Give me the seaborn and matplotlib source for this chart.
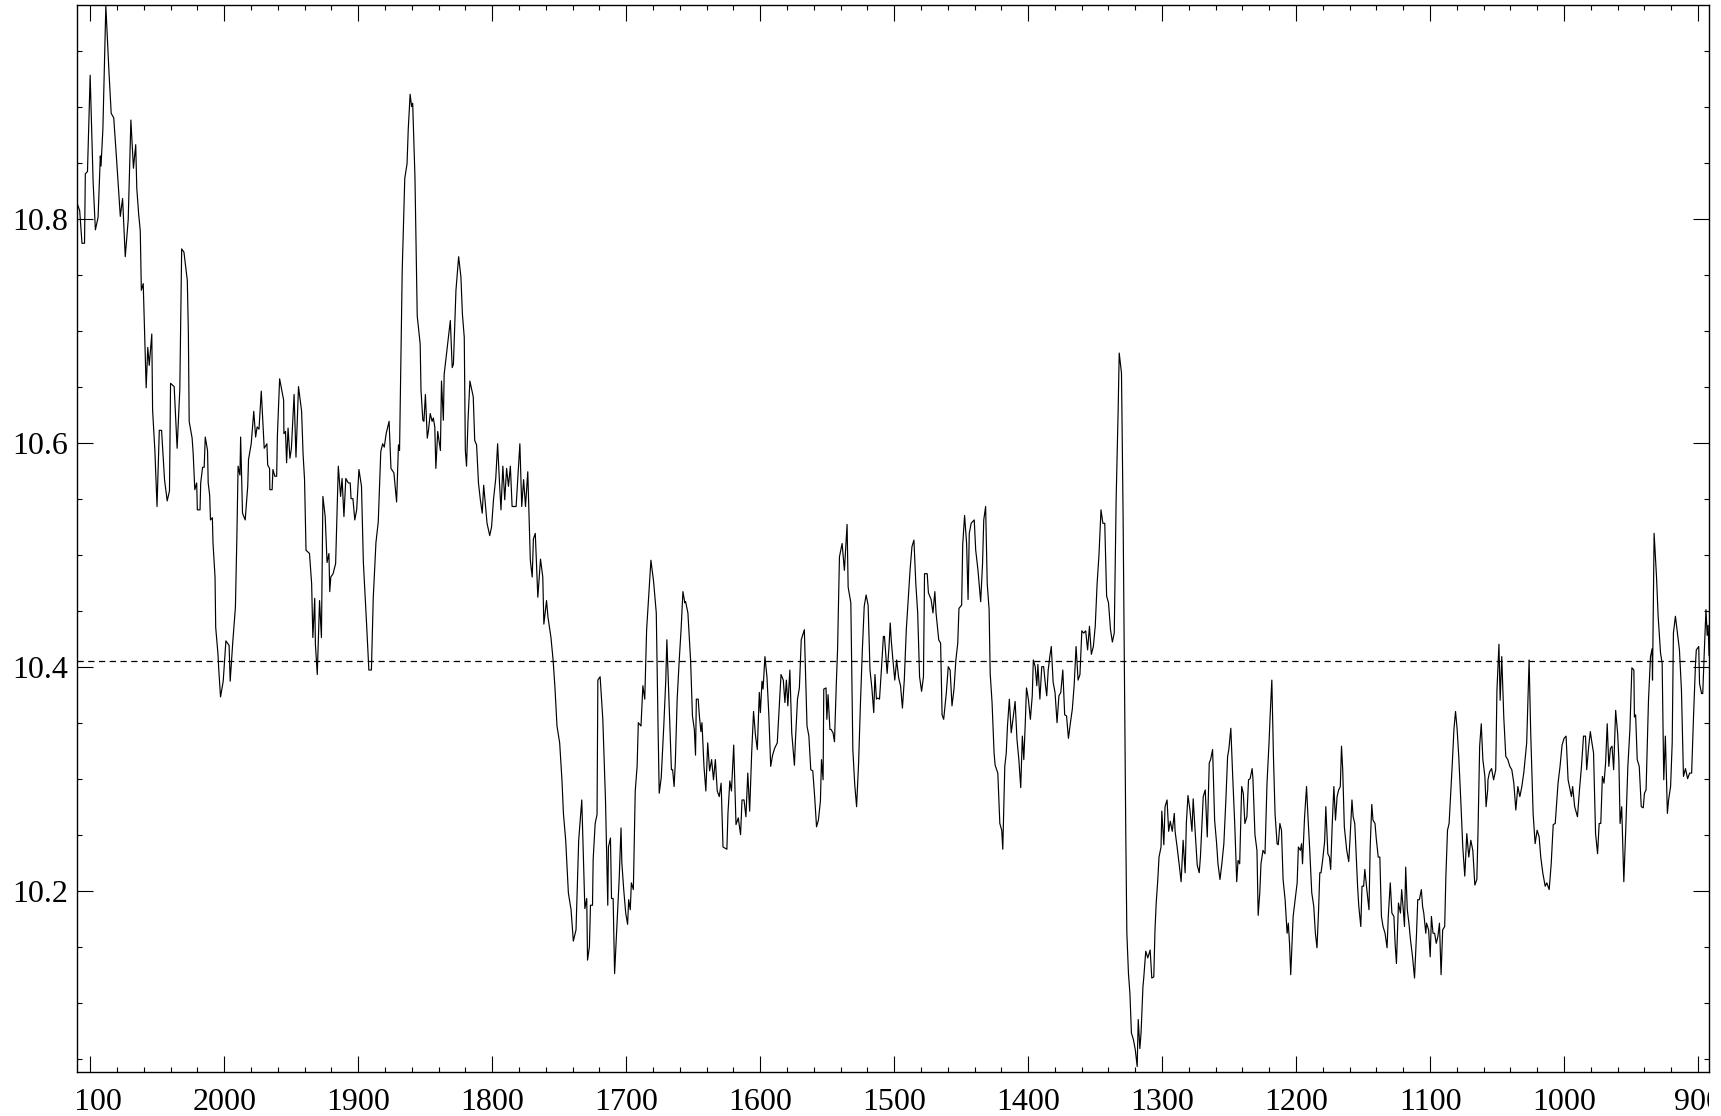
import numpy as np
import pandas as pd
import matplotlib
matplotlib.use('Agg')
import matplotlib.pyplot as plt
import seaborn as sns
from matplotlib.ticker import MultipleLocator
from matplotlib.transforms import Bbox, TransformedBbox

# series, split in three stretches (left to right)
years_a = [2109.8, 2107.8, 2106.1, 2104.2, 2103.6, 2102.0, 2100.0, 2097.8, 2096.1, 2094.1, 2092.4, 2091.9, 2090.5, 2088.3,
           2086.0, 2084.3, 2082.4, 2080.4, 2077.5, 2075.8, 2073.8, 2071.6, 2069.6, 2067.7, 2066.0, 2065.2, 2063.8, 2062.6,
           2061.8, 2060.4, 2059.3, 2058.2, 2057.0, 2055.9, 2054.0, 2053.4, 2051.7, 2050.1, 2048.4, 2046.7, 2044.5, 2042.5,
           2040.8, 2040.0, 2037.3, 2035.1, 2033.1, 2031.7, 2030.0, 2028.7, 2027.5, 2026.7, 2026.1, 2023.9, 2023.1, 2021.9,
           2020.5, 2020.0, 2018.0, 2017.5, 2016.1, 2014.9, 2014.1, 2012.4, 2011.9, 2010.8, 2010.2, 2008.8, 2008.3, 2006.8,
           2006.3, 2004.6, 2004.1, 2002.7, 2000.7, 1998.7, 1996.3, 1995.5, 1993.5, 1991.6, 1990.5, 1989.6, 1988.2, 1987.7,
           1986.3, 1984.3, 1982.4, 1981.8, 1979.8, 1977.9, 1976.5, 1975.4, 1974.0, 1972.3, 1970.1, 1968.1, 1967.5, 1966.1,
           1965.9, 1964.2, 1963.6, 1962.2, 1960.8, 1960.3, 1958.6, 1955.6, 1955.4, 1954.2, 1953.4, 1952.3, 1950.9, 1949.8,
           1947.8, 1946.4, 1944.5, 1942.2, 1941.1, 1940.0, 1938.9, 1936.3, 1934.7, 1933.8, 1932.4, 1931.9, 1930.5, 1928.8,
           1927.4, 1926.3, 1924.6, 1923.2, 1921.8, 1921.2, 1920.4, 1918.7, 1916.8, 1914.8, 1913.1, 1912.0, 1910.6, 1909.2,
           1907.3, 1905.9, 1905.3, 1903.9, 1902.5, 1901.1, 1899.4, 1897.5, 1896.1, 1893.7, 1892.0, 1890.1, 1888.7, 1886.7,
           1885.0, 1883.1, 1881.7, 1880.5, 1879.1, 1876.9, 1875.5, 1873.3, 1871.3, 1869.9, 1869.1, 1867.1, 1865.2, 1863.5,
           1862.6, 1861.2, 1860.1, 1859.3, 1857.6, 1855.9, 1853.7, 1853.1, 1851.7, 1850.9, 1849.8, 1848.4, 1847.5, 1846.2,
           1844.8, 1843.9, 1842.8, 1842.0, 1840.6, 1838.6, 1837.8, 1836.4, 1835.8, 1831.2, 1829.8, 1828.9, 1827.0, 1825.0,
           1823.3, 1822.2, 1820.8, 1820.0, 1819.1, 1818.0, 1816.6, 1814.1, 1813.0, 1811.6, 1810.2, 1808.8, 1807.4, 1806.3,
           1804.9, 1803.8, 1801.8, 1800.4, 1799.0, 1797.3, 1795.9, 1794.5, 1793.4, 1792.0, 1790.6, 1789.2, 1787.8, 1786.4,
           1785.1, 1782.1, 1780.7, 1779.3, 1777.9, 1776.5, 1775.1, 1773.4, 1771.5, 1770.1, 1769.2, 1767.8, 1765.9, 1763.9,
           1762.2, 1761.4, 1759.4, 1758.3, 1756.1]
values_a = [10.814, 10.807, 10.778, 10.778, 10.840, 10.842, 10.928, 10.833, 10.790, 10.801, 10.856, 10.847, 10.880, 10.990,
            10.932, 10.894, 10.890, 10.855, 10.802, 10.818, 10.766, 10.799, 10.888, 10.845, 10.866, 10.827, 10.804, 10.789,
            10.736, 10.742, 10.697, 10.649, 10.685, 10.669, 10.697, 10.629, 10.593, 10.543, 10.611, 10.611, 10.567, 10.548,
            10.557, 10.653, 10.650, 10.595, 10.647, 10.773, 10.770, 10.757, 10.745, 10.698, 10.619, 10.604, 10.590, 10.558,
            10.564, 10.540, 10.540, 10.564, 10.578, 10.578, 10.605, 10.593, 10.564, 10.553, 10.531, 10.533, 10.510, 10.480,
            10.435, 10.411, 10.399, 10.373, 10.387, 10.423, 10.419, 10.387, 10.423, 10.453, 10.516, 10.579, 10.571, 10.605,
            10.537, 10.531, 10.561, 10.585, 10.599, 10.628, 10.605, 10.614, 10.612, 10.646, 10.595, 10.599, 10.580, 10.577,
            10.558, 10.558, 10.576, 10.570, 10.570, 10.605, 10.657, 10.638, 10.608, 10.610, 10.582, 10.613, 10.586, 10.595,
            10.643, 10.587, 10.650, 10.628, 10.590, 10.567, 10.504, 10.501, 10.474, 10.426, 10.461, 10.420, 10.393, 10.459,
            10.426, 10.552, 10.534, 10.493, 10.501, 10.467, 10.480, 10.483, 10.492, 10.579, 10.552, 10.568, 10.534, 10.568,
            10.564, 10.564, 10.550, 10.550, 10.531, 10.540, 10.576, 10.561, 10.493, 10.438, 10.397, 10.397, 10.462, 10.511,
            10.529, 10.592, 10.599, 10.596, 10.608, 10.619, 10.577, 10.573, 10.547, 10.598, 10.593, 10.754, 10.836, 10.849,
            10.880, 10.911, 10.900, 10.903, 10.837, 10.713, 10.688, 10.647, 10.620, 10.619, 10.643, 10.604, 10.611, 10.626,
            10.619, 10.622, 10.614, 10.577, 10.610, 10.593, 10.655, 10.620, 10.661, 10.709, 10.667, 10.670, 10.736, 10.766,
            10.748, 10.715, 10.694, 10.593, 10.579, 10.620, 10.655, 10.641, 10.602, 10.598, 10.564, 10.549, 10.537, 10.562,
            10.543, 10.528, 10.517, 10.525, 10.549, 10.568, 10.599, 10.564, 10.540, 10.579, 10.549, 10.577, 10.561, 10.579,
            10.543, 10.543, 10.571, 10.599, 10.543, 10.567, 10.543, 10.574, 10.495, 10.480, 10.514, 10.519, 10.462, 10.496,
            10.480, 10.438, 10.459, 10.444, 10.426]

years_b = [1754.5, 1753.1, 1751.6, 1749.6, 1747.9, 1746.8, 1745.1, 1743.1, 1741.1, 1739.4, 1737.4, 1735.4, 1733.1, 1730.8,
           1729.4, 1728.8, 1727.4, 1726.6, 1725.1, 1724.6, 1723.1, 1721.7, 1721.1, 1719.4, 1717.4, 1715.4, 1713.7, 1713.2,
           1711.7, 1710.9, 1709.7, 1708.6, 1706.9, 1705.2, 1703.8, 1703.2, 1701.8, 1700.3, 1698.9, 1698.1, 1696.9, 1696.1,
           1694.6, 1693.2, 1691.8, 1690.9, 1688.9, 1687.5, 1686.1, 1684.7, 1681.5, 1679.5, 1677.5, 1676.1, 1675.3, 1673.8,
           1671.9, 1670.4, 1669.6, 1667.6, 1666.2, 1665.3, 1664.2, 1663.3, 1661.9, 1660.5, 1659.0, 1657.6, 1656.2, 1655.6,
           1653.9, 1651.9, 1650.5, 1649.1, 1648.2, 1647.6, 1646.2, 1645.4, 1644.2, 1643.4, 1641.9, 1640.5, 1639.1, 1637.7,
           1636.2, 1634.8, 1633.4, 1632.0, 1630.5, 1629.1, 1627.7, 1626.3, 1624.8, 1624.0, 1622.6, 1621.4, 1619.7, 1618.0,
           1616.3, 1614.6, 1613.5, 1612.0, 1610.6, 1609.2, 1607.8, 1606.3, 1604.9, 1603.5, 1602.1, 1600.6, 1599.8, 1598.6,
           1597.8, 1596.4, 1594.9, 1593.5, 1592.1, 1590.7, 1589.2, 1587.2, 1585.8, 1584.4, 1582.7, 1581.5, 1580.4, 1579.3,
           1577.8, 1576.4, 1574.4, 1573.6, 1572.1, 1570.7, 1569.3, 1567.0, 1565.0, 1563.6, 1562.2, 1560.7, 1559.3, 1557.9,
           1556.5, 1555.0, 1554.2, 1553.0, 1552.5, 1550.8, 1550.2, 1549.3, 1547.9, 1547.1, 1545.6, 1544.5, 1543.1, 1542.2,
           1540.8, 1538.8, 1537.1, 1535.1, 1534.3, 1532.3, 1530.8, 1529.4, 1528.0, 1526.5, 1525.1, 1523.7, 1522.3, 1520.9,
           1519.4, 1518.0, 1516.6, 1515.2, 1514.3, 1513.2, 1512.3, 1510.9, 1509.5, 1508.0, 1507.2, 1505.2, 1503.8, 1502.9,
           1502.1, 1500.9, 1499.5, 1498.1, 1496.6, 1495.2, 1493.8, 1492.4, 1490.9, 1489.5, 1488.1, 1486.7, 1485.2, 1483.8,
           1482.4, 1481.0, 1479.5, 1478.1, 1477.3, 1475.3, 1474.4, 1472.4, 1471.0, 1469.6, 1468.7, 1466.7, 1465.3, 1464.2,
           1463.0, 1461.0, 1459.6, 1458.2, 1456.8, 1455.3, 1453.9, 1452.5, 1451.6, 1449.6, 1448.8, 1447.4, 1445.9, 1444.8,
           1443.9, 1442.5, 1440.2, 1439.1, 1437.4, 1435.4, 1434.0, 1433.1, 1431.7, 1430.5, 1429.1, 1428.3, 1426.9, 1425.4,
           1424.6, 1422.6, 1421.1, 1419.7, 1418.9, 1417.4, 1416.3, 1415.4, 1414.0, 1412.6, 1411.2, 1409.7, 1408.3, 1406.9,
           1405.5, 1404.3, 1403.2, 1402.1, 1401.2, 1399.8, 1398.3, 1396.9, 1396.1, 1394.7, 1393.5, 1392.7, 1391.2, 1389.8,
           1388.4, 1387.0, 1386.1, 1385.0, 1383.8, 1382.7, 1381.3, 1379.9, 1378.4, 1377.0, 1375.6, 1374.1, 1372.7, 1371.3,
           1369.9, 1368.4, 1367.0, 1365.6, 1364.2, 1362.7, 1361.3, 1359.9, 1358.5, 1357.0, 1355.6, 1354.2, 1352.8, 1351.3,
           1349.9, 1348.5, 1347.1, 1345.6, 1344.2, 1342.8, 1341.4, 1340.0, 1338.5, 1337.1, 1335.7, 1334.3, 1332.8, 1332.0,
           1330.3, 1329.1, 1327.1, 1326.3, 1325.1, 1324.0, 1322.9, 1321.4, 1320.0, 1318.6, 1317.8, 1316.6, 1315.7, 1314.3]
values_b = [10.406, 10.381, 10.347, 10.332, 10.299, 10.269, 10.245, 10.198, 10.183, 10.155, 10.165, 10.245, 10.281, 10.184,
            10.193, 10.138, 10.150, 10.187, 10.187, 10.228, 10.260, 10.268, 10.388, 10.391, 10.353, 10.281, 10.187, 10.239,
            10.247, 10.193, 10.193, 10.126, 10.168, 10.210, 10.256, 10.225, 10.201, 10.180, 10.170, 10.192, 10.183, 10.207,
            10.201, 10.289, 10.311, 10.350, 10.347, 10.383, 10.371, 10.433, 10.495, 10.476, 10.448, 10.341, 10.287, 10.301,
            10.347, 10.388, 10.424, 10.356, 10.308, 10.308, 10.293, 10.314, 10.371, 10.403, 10.433, 10.467, 10.457, 10.458,
            10.448, 10.406, 10.356, 10.344, 10.321, 10.371, 10.371, 10.357, 10.342, 10.350, 10.311, 10.289, 10.332, 10.307,
            10.317, 10.299, 10.317, 10.289, 10.284, 10.296, 10.239, 10.238, 10.237, 10.269, 10.298, 10.289, 10.330, 10.259,
            10.265, 10.250, 10.281, 10.281, 10.266, 10.305, 10.271, 10.323, 10.360, 10.339, 10.326, 10.377, 10.359, 10.387,
            10.380, 10.409, 10.391, 10.357, 10.311, 10.321, 10.327, 10.332, 10.362, 10.393, 10.388, 10.368, 10.388, 10.365,
            10.397, 10.341, 10.312, 10.335, 10.371, 10.381, 10.424, 10.433, 10.347, 10.338, 10.308, 10.307, 10.284, 10.257,
            10.263, 10.280, 10.317, 10.299, 10.380, 10.381, 10.353, 10.375, 10.344, 10.344, 10.341, 10.333, 10.386, 10.415,
            10.498, 10.510, 10.486, 10.527, 10.471, 10.457, 10.326, 10.295, 10.275, 10.314, 10.368, 10.415, 10.454, 10.464,
            10.455, 10.397, 10.381, 10.359, 10.393, 10.371, 10.372, 10.371, 10.397, 10.427, 10.427, 10.394, 10.418, 10.439,
            10.423, 10.406, 10.388, 10.406, 10.390, 10.383, 10.363, 10.388, 10.433, 10.460, 10.486, 10.507, 10.513, 10.474,
            10.448, 10.391, 10.378, 10.391, 10.483, 10.483, 10.466, 10.460, 10.448, 10.467, 10.448, 10.424, 10.421, 10.357,
            10.353, 10.377, 10.400, 10.397, 10.365, 10.380, 10.406, 10.421, 10.452, 10.455, 10.509, 10.535, 10.510, 10.460,
            10.519, 10.528, 10.531, 10.504, 10.486, 10.458, 10.492, 10.531, 10.543, 10.474, 10.451, 10.394, 10.368, 10.323,
            10.312, 10.305, 10.260, 10.254, 10.237, 10.311, 10.323, 10.347, 10.371, 10.341, 10.354, 10.369, 10.335, 10.317,
            10.292, 10.338, 10.317, 10.350, 10.381, 10.371, 10.353, 10.374, 10.406, 10.400, 10.383, 10.402, 10.371, 10.400,
            10.400, 10.383, 10.374, 10.397, 10.409, 10.418, 10.386, 10.377, 10.350, 10.374, 10.377, 10.397, 10.357, 10.356,
            10.336, 10.350, 10.362, 10.384, 10.418, 10.388, 10.393, 10.432, 10.430, 10.432, 10.415, 10.436, 10.411, 10.418,
            10.436, 10.474, 10.500, 10.540, 10.528, 10.528, 10.463, 10.457, 10.433, 10.422, 10.430, 10.549, 10.629, 10.680,
            10.662, 10.534, 10.251, 10.162, 10.126, 10.108, 10.073, 10.067, 10.058, 10.043, 10.085, 10.059, 10.073, 10.114]

years_c = [1313.7, 1312.2, 1310.7, 1308.9, 1307.7, 1306.2, 1305.3, 1304.4, 1303.2, 1302.3, 1300.8, 1300.2, 1298.7, 1297.8,
           1296.3, 1295.1, 1293.9, 1292.4, 1290.9, 1290.3, 1288.8, 1287.3, 1285.8, 1284.3, 1282.8, 1281.9, 1280.7, 1279.2,
           1277.7, 1276.8, 1275.3, 1273.8, 1272.3, 1271.4, 1269.3, 1267.8, 1266.3, 1264.8, 1263.8, 1262.3, 1260.8, 1259.3,
           1258.3, 1256.8, 1255.4, 1253.9, 1252.4, 1251.1, 1250.2, 1248.7, 1247.3, 1245.8, 1244.3, 1243.3, 1242.1, 1240.6,
           1239.4, 1238.2, 1236.7, 1235.5, 1234.3, 1232.8, 1232.2, 1230.7, 1229.2, 1228.3, 1227.1, 1226.2, 1224.7, 1223.2,
           1221.7, 1220.2, 1219.3, 1218.1, 1216.9, 1215.7, 1214.2, 1213.3, 1212.1, 1210.9, 1209.7, 1208.2, 1206.7, 1205.8,
           1204.9, 1204.0, 1202.2, 1200.7, 1199.2, 1198.3, 1196.8, 1195.9, 1195.2, 1193.7, 1192.2, 1191.0, 1189.8, 1188.3,
           1186.8, 1185.6, 1184.4, 1183.2, 1182.3, 1181.4, 1180.2, 1178.7, 1177.8, 1176.3, 1175.1, 1174.2, 1173.0, 1171.8,
           1170.6, 1169.4, 1168.2, 1167.0, 1166.1, 1165.2, 1164.0, 1162.2, 1160.7, 1159.8, 1158.3, 1157.4, 1156.2, 1155.0,
           1154.1, 1153.2, 1151.7, 1150.8, 1149.6, 1148.7, 1147.2, 1145.6, 1144.7, 1143.5, 1142.6, 1141.1, 1140.2, 1138.7,
           1137.5, 1136.3, 1135.1, 1133.6, 1132.1, 1131.2, 1129.7, 1128.5, 1127.0, 1126.1, 1125.1, 1123.6, 1122.1, 1121.2,
           1120.0, 1119.1, 1118.2, 1117.0, 1115.8, 1114.6, 1113.1, 1111.6, 1110.1, 1109.2, 1108.0, 1106.5, 1105.6, 1104.7,
           1103.2, 1102.6, 1101.1, 1099.9, 1099.0, 1097.8, 1096.6, 1095.4, 1094.2, 1093.0, 1091.8, 1090.6, 1089.1, 1088.2,
           1087.0, 1085.8, 1084.6, 1083.4, 1082.2, 1081.0, 1079.8, 1078.6, 1077.1, 1075.6, 1074.1, 1072.6, 1071.1, 1069.6,
           1068.1, 1066.6, 1065.1, 1064.2, 1063.0, 1061.8, 1060.6, 1059.1, 1058.2, 1057.0, 1056.8, 1055.6, 1054.1, 1052.6,
           1051.0, 1050.1, 1048.6, 1047.7, 1046.5, 1045.0, 1043.5, 1042.0, 1040.5, 1039.0, 1037.5, 1036.0, 1034.5, 1033.0,
           1031.5, 1030.0, 1027.9, 1026.1, 1024.9, 1023.1, 1021.6, 1020.1, 1018.6, 1017.4, 1015.9, 1014.1, 1012.9, 1011.1,
           1009.6, 1008.1, 1006.6, 1005.4, 1004.5, 1003.0, 1001.5, 1000.0, 998.5, 997.0, 996.0, 994.5, 993.6, 992.1,
           990.0, 988.5, 987.0, 985.5, 984.0, 983.1, 981.6, 980.4, 979.2, 978.0, 976.5, 975.0, 973.8, 972.6, 971.4, 970.2,
           969.0, 967.8, 966.6, 965.4, 964.2, 963.0, 961.5, 960.0, 959.1, 958.2, 957.0, 955.4, 953.9, 952.4, 950.9, 949.4,
           947.9, 947.5, 946.6, 945.4, 943.9, 942.4, 940.9, 940.0, 938.8, 937.0, 935.5, 934.3, 934.0, 932.8, 931.0, 929.8,
           928.0, 926.8, 925.6, 924.4, 922.9, 922.0, 920.5, 919.3, 918.4, 916.9, 915.4, 913.9, 912.4, 910.9, 909.4, 907.8,
           906.3, 904.8, 903.4, 901.9, 901.3, 899.5, 898.9, 897.4, 896.5, 895.3, 894.1, 893.2, 892.5, 891.8, 891.0, 889.9]
values_c = [10.122, 10.146, 10.140, 10.147, 10.122, 10.123, 10.165, 10.189, 10.210, 10.230, 10.239, 10.271, 10.241, 10.275,
            10.281, 10.253, 10.262, 10.253, 10.269, 10.253, 10.239, 10.224, 10.208, 10.245, 10.216, 10.260, 10.285, 10.272,
            10.253, 10.282, 10.253, 10.223, 10.216, 10.230, 10.284, 10.290, 10.248, 10.314, 10.317, 10.326, 10.263, 10.242,
            10.224, 10.210, 10.224, 10.242, 10.281, 10.320, 10.326, 10.345, 10.302, 10.260, 10.208, 10.227, 10.224, 10.293,
            10.287, 10.260, 10.266, 10.299, 10.300, 10.309, 10.300, 10.250, 10.236, 10.178, 10.198, 10.224, 10.236, 10.233,
            10.296, 10.332, 10.358, 10.388, 10.320, 10.269, 10.242, 10.241, 10.260, 10.254, 10.210, 10.192, 10.162, 10.171,
            10.153, 10.125, 10.177, 10.192, 10.207, 10.239, 10.236, 10.242, 10.224, 10.265, 10.293, 10.263, 10.236, 10.198,
            10.186, 10.162, 10.149, 10.183, 10.216, 10.216, 10.227, 10.244, 10.275, 10.233, 10.230, 10.219, 10.260, 10.293,
            10.263, 10.284, 10.290, 10.293, 10.329, 10.308, 10.257, 10.236, 10.226, 10.245, 10.281, 10.266, 10.260, 10.227,
            10.204, 10.186, 10.168, 10.204, 10.204, 10.219, 10.201, 10.183, 10.239, 10.277, 10.263, 10.260, 10.247, 10.230,
            10.230, 10.177, 10.168, 10.162, 10.149, 10.177, 10.207, 10.180, 10.177, 10.153, 10.135, 10.189, 10.180, 10.201,
            10.183, 10.168, 10.221, 10.183, 10.171, 10.156, 10.141, 10.122, 10.162, 10.192, 10.192, 10.201, 10.186, 10.180,
            10.162, 10.171, 10.165, 10.141, 10.177, 10.162, 10.162, 10.153, 10.159, 10.171, 10.125, 10.165, 10.168, 10.213,
            10.254, 10.260, 10.287, 10.314, 10.344, 10.360, 10.344, 10.320, 10.281, 10.239, 10.213, 10.251, 10.230, 10.245,
            10.236, 10.205, 10.210, 10.254, 10.329, 10.349, 10.317, 10.302, 10.275, 10.290, 10.299, 10.306, 10.309, 10.299,
            10.308, 10.379, 10.420, 10.370, 10.409, 10.355, 10.320, 10.317, 10.311, 10.308, 10.296, 10.272, 10.293, 10.284,
            10.293, 10.306, 10.332, 10.406, 10.341, 10.269, 10.242, 10.254, 10.248, 10.230, 10.216, 10.204, 10.207, 10.201,
            10.224, 10.259, 10.260, 10.281, 10.296, 10.311, 10.330, 10.336, 10.338, 10.299, 10.293, 10.284, 10.293, 10.275,
            10.266, 10.290, 10.311, 10.338, 10.338, 10.308, 10.329, 10.342, 10.332, 10.323, 10.251, 10.233, 10.260, 10.260, 10.302, 10.296,
            10.314, 10.349, 10.311, 10.327, 10.329, 10.308, 10.361, 10.340, 10.317, 10.260, 10.275, 10.208, 10.257, 10.311, 10.343, 10.399,
            10.397, 10.355, 10.357, 10.317, 10.311, 10.275, 10.274, 10.287, 10.290, 10.370, 10.409, 10.416, 10.388, 10.519, 10.480, 10.445,
            10.412, 10.403, 10.299, 10.338, 10.269, 10.281, 10.293, 10.332, 10.430, 10.445, 10.430, 10.415, 10.379, 10.302, 10.309, 10.300,
            10.305, 10.305, 10.355, 10.403, 10.415, 10.418, 10.385, 10.376, 10.376, 10.415, 10.451, 10.428, 10.437, 10.410, 10.451, 10.451]

mean_level = 10.405
x_ticks = [2100, 2000, 1900, 1800, 1700, 1600, 1500, 1400, 1300, 1200, 1100, 1000, 900]
y_ticks = [10.2, 10.4, 10.6, 10.8]

df = pd.DataFrame({'year': years_a + years_b + years_c,
                   'value': values_a + values_b + values_c})

sns.set_theme(style='ticks')
plt.rcParams['font.family'] = ['Liberation Serif', 'DejaVu Serif']

fig = plt.figure(figsize=(17.21, 11.16), dpi=100)
ax = fig.add_axes([0.0446, 0.0397, 0.9483, 0.9556])

sns.lineplot(data=df, x='year', y='value', ax=ax, color='black', linewidth=0.85,
             sort=False, estimator=None)
ax.axhline(mean_level, color='black', linewidth=0.9, linestyle=(0, (5, 3.6)))

ax.set_xlim(2110, 892)
ax.set_ylim(10.0384, 10.9905)
ax.set_xticks(x_ticks)
ax.set_yticks(y_ticks)
ax.xaxis.set_minor_locator(MultipleLocator(20))
ax.yaxis.set_minor_locator(MultipleLocator(0.05))
ax.set_yticklabels([f'{v:.1f}' for v in y_ticks])
ax.set_xlabel('')
ax.set_ylabel('')

ax.tick_params(which='both', direction='in', top=True, right=True, colors='black', labelsize=23)
ax.tick_params(which='major', length=11.5, width=0.8)
ax.tick_params(which='minor', length=3.6, width=0.8)
ax.tick_params(axis='x', pad=11.5)
ax.tick_params(axis='y', pad=6)
for s in ax.spines.values():
    s.set_linewidth(1.0)
    s.set_color('black')

#x labels get cut at the frame edges like in the original
fig.canvas.draw()
clip = TransformedBbox(Bbox([[0, -1], [1, 2]]), ax.transAxes)
for t in ax.xaxis.get_major_ticks():
    t.label1.set_clip_box(clip)
    t.label1.set_clip_on(True)

plt.savefig('out.png', dpi=100)
